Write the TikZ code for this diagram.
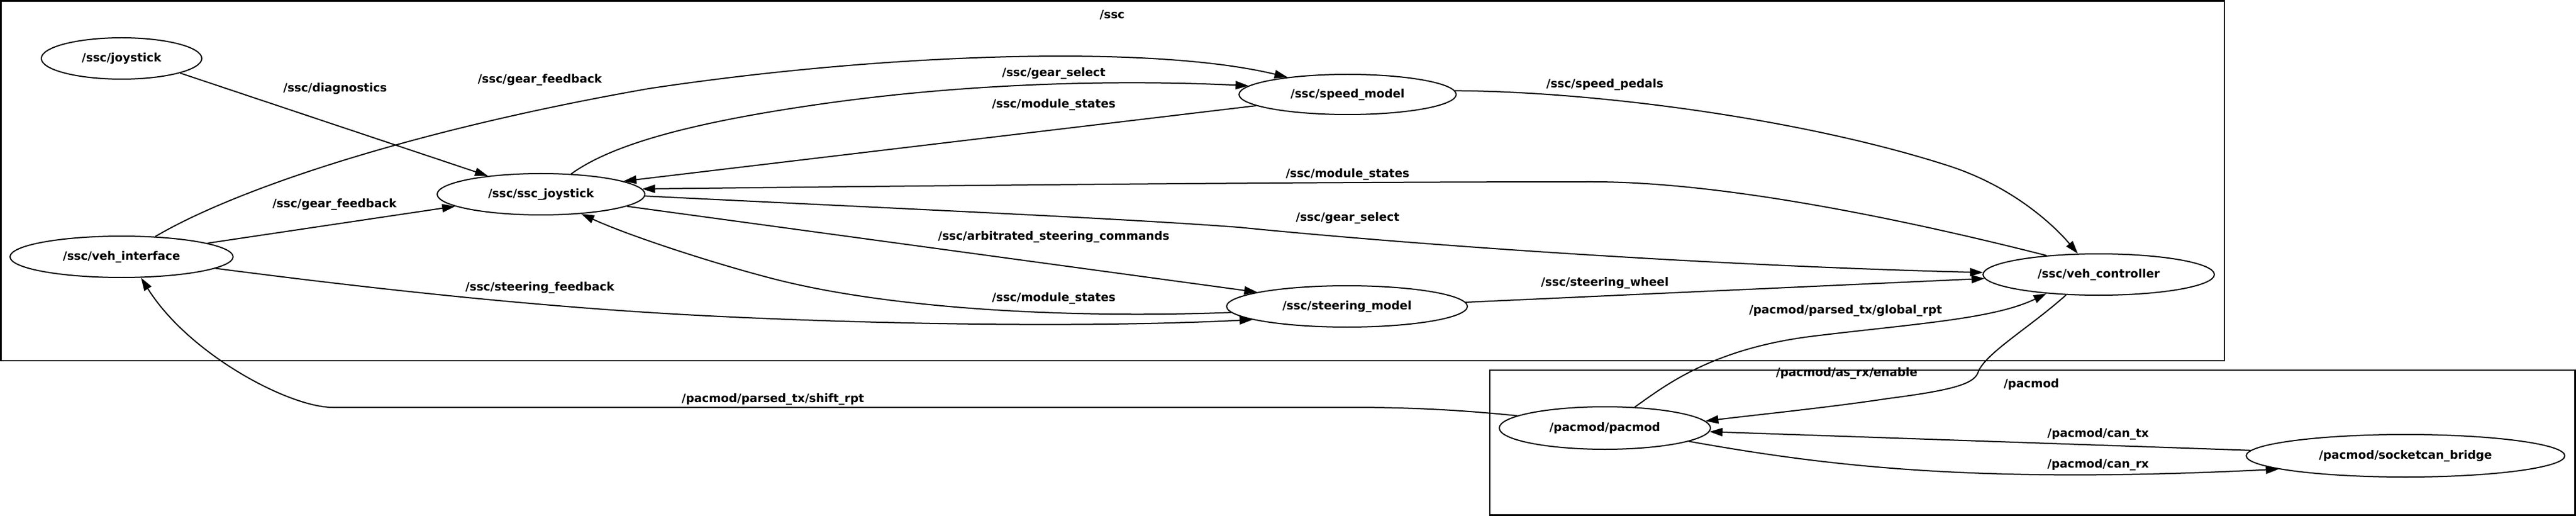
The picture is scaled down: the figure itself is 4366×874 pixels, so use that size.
\documentclass[tikz,border=0pt]{standalone}
\usepackage{fontspec}
\setmainfont{DejaVu Sans}
\usetikzlibrary{shapes.geometric,arrows.meta}
\newcommand\gvfont{\fontsize{19.6}{23}\selectfont\bfseries}
\begin{document}
\begin{tikzpicture}[x=1pt,y=-1pt,
  nd/.style={draw,ellipse,line width=2pt,inner sep=0pt,font=\gvfont},
  lbl/.style={inner sep=0pt,font=\gvfont},
  edge/.style={line width=2pt,-{Triangle[length=22pt,width=14pt]}},
  box/.style={line width=2.5pt}]
\useasboundingbox (0,0) rectangle (4366,874);
\fill[white] (0,0) rectangle (4366,874);
% clusters
\draw[box] (1.5,1.5) rectangle (3770,611);
\draw[box] (2525,627) rectangle (4364.5,872.5);
\node[lbl] (cssc) at (1885,25) {/ssc};
\node[lbl] (cpac) at (3443,651) {/pacmod};
% nodes
\node[nd,minimum width=272pt,minimum height=70pt] (joy) at (206,99) {/ssc/joystick};
\node[nd,minimum width=352pt,minimum height=70pt] (sscj) at (917,329) {/ssc/ssc\_joystick};
\node[nd,minimum width=378pt,minimum height=70pt] (vehi) at (206,435) {/ssc/veh\_interface};
\node[nd,minimum width=368pt,minimum height=68pt] (speed) at (2284,160) {/ssc/speed\_model};
\node[nd,minimum width=392pt,minimum height=70pt] (vehc) at (3557,465) {/ssc/veh\_controller};
\node[nd,minimum width=408pt,minimum height=70pt] (steer) at (2283,519) {/ssc/steering\_model};
\node[nd,minimum width=358pt,minimum height=72pt] (pac) at (2720,725) {/pacmod/pacmod};
\node[nd,minimum width=540pt,minimum height=72pt] (sock) at (4077,772) {/pacmod/socketcan\_bridge};
% edge labels
\node[lbl] (l1) at (568,150) {/ssc/diagnostics};
\node[lbl] (l2) at (915,135) {/ssc/gear\_feedback};
\node[lbl] (l3) at (567,346) {/ssc/gear\_feedback};
\node[lbl] (l4) at (915,487) {/ssc/steering\_feedback};
\node[lbl] (l5) at (1786,124) {/ssc/gear\_select};
\node[lbl] (l6) at (1786,177) {/ssc/module\_states};
\node[lbl] (l7) at (1786,401) {/ssc/arbitrated\_steering\_commands};
\node[lbl] (l8) at (1786,505) {/ssc/module\_states};
\node[lbl] (l9) at (2720,143) {/ssc/speed\_pedals};
\node[lbl] (l10) at (2284,295) {/ssc/module\_states};
\node[lbl] (l11) at (2284,369) {/ssc/gear\_select};
\node[lbl] (l12) at (2720,479) {/ssc/steering\_wheel};
\node[lbl] (l13) at (3128,526) {/pacmod/parsed\_tx/global\_rpt};
\node[lbl] (l14) at (3130,632) {/pacmod/as\_rx/enable};
\node[lbl] (l15) at (3556,735) {/pacmod/can\_tx};
\node[lbl] (l16) at (3556,787) {/pacmod/can\_rx};
\node[lbl] (l17) at (1310,676) {/pacmod/parsed\_tx/shift\_rpt};
% edges
\draw[edge] (joy.-14) -- (sscj.161);
\draw[edge] (vehi.9) -- (sscj.188);
\draw[edge] (vehi.31) .. controls (400,320) and (700,220) .. (1100,150)
                      .. controls (1500,90) and (1950,75) .. (speed.164);
\draw[edge] (sscj.34) .. controls (1030,250) and (1150,210) .. (1400,175)
                      .. controls (1650,140) and (1900,135) .. (speed.175);
\draw[edge] (speed.187) -- (sscj.9);
\draw[edge] (vehc.160) .. controls (3300,390) and (2950,308) .. (2700,308)
                       .. controls (2300,308) and (1800,312) .. (sscj.3);
\draw[edge] (sscj.-1) .. controls (1600,357) and (1900,370) .. (2100,385)
                      .. controls (2400,415) and (2900,450) .. (vehc.179);
\draw[edge] (sscj.-8.5) -- (steer.171);
\draw[edge] (steer.183) .. controls (1800,540) and (1500,522) .. (1306,471)
                        .. controls (1206,445) and (1065,399) .. (sscj.-26);
\draw[edge] (vehi.-7) .. controls (600,485) and (900,520) .. (1200,535)
                      .. controls (1500,550) and (1850,555) .. (steer.188);
\draw[edge] (speed.2) .. controls (2700,155) and (3050,200) .. (3300,280)
                      .. controls (3420,318) and (3490,392) .. (vehc.135);
\draw[edge] (steer.2.5) -- (vehc.182);
\draw[edge] (pac.35) .. controls (2820,655) and (2900,590) .. (3076,569)
                     .. controls (3250,548) and (3380,540) .. (vehc.200);
\draw[edge] (vehc.212) .. controls (3440,555) and (3362,600) .. (3352,632)
                       .. controls (3344,652) and (3300,662) .. (3200,675)
                       .. controls (3100,690) and (3000,700) .. (pac.4);
\draw[edge] (pac.172) .. controls (2480,695) and (2400,690) .. (2288,690)
                      -- (564,690) .. controls (490,690) and (320,600) .. (vehi.-47);
\draw[edge] (sock.178) -- (pac.-2);
\draw[edge] (pac.-9.5) .. controls (3100,790) and (3350,820) .. (sock.186);
\end{tikzpicture}
\end{document}
